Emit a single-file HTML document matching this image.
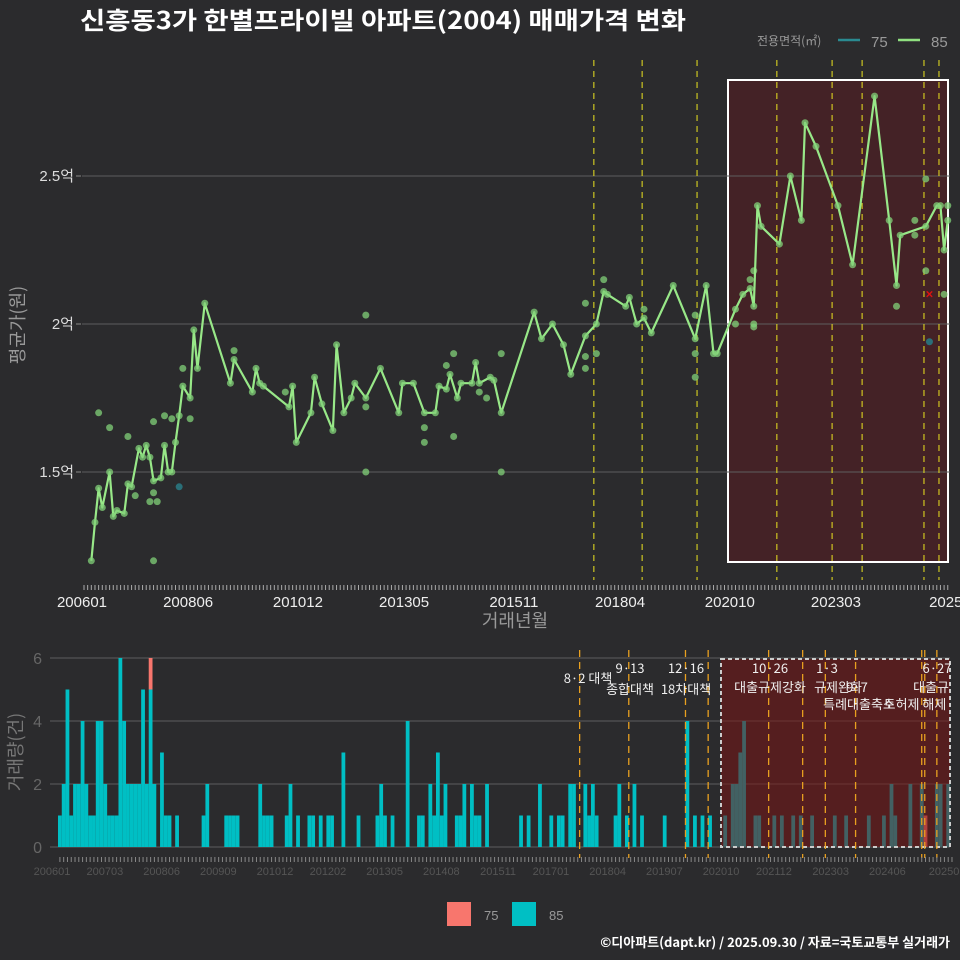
<!DOCTYPE html>
<html><head><meta charset="utf-8">
<style>
html,body{margin:0;padding:0;background:#2b2b2d;}
svg{display:block;font-family:"Liberation Sans","Noto Sans CJK KR",sans-serif;}
</style></head>
<body>
<svg id="c" width="960" height="960" viewBox="0 0 960 960" xmlns="http://www.w3.org/2000/svg">
<rect width="960" height="960" fill="#2b2b2d"/>
<text x="80" y="29" fill="#ffffff" font-size="24" font-weight="bold" font-family="'Noto Sans CJK KR',sans-serif" textLength="606" lengthAdjust="spacingAndGlyphs">신흥동3가 한별프라이빌 아파트(2004) 매매가격 변화</text>
<g>
<text x="757" y="45" fill="#999" font-size="12" font-family="'Noto Sans CJK KR',sans-serif">전용면적(㎡)</text>
<line x1="838" y1="40" x2="860" y2="40" stroke="#2a8a90" stroke-width="2.5"/>
<text x="871" y="47" fill="#999" font-size="15">75</text>
<line x1="898" y1="40" x2="920" y2="40" stroke="#90e080" stroke-width="2.5"/>
<text x="931" y="47" fill="#999" font-size="15">85</text>
</g>
<g id="topchart"></g>
<g id="botchart"></g>
<g>
<rect x="447" y="902" width="24" height="24" fill="#f8766d"/>
<text x="484" y="920" fill="#999" font-size="13">75</text>
<rect x="512" y="902" width="24" height="24" fill="#00bfc4"/>
<text x="549" y="920" fill="#999" font-size="13">85</text>
</g>
<text x="950" y="947" text-anchor="end" fill="#fff" font-size="13" font-weight="bold" font-family="'Noto Sans CJK KR',sans-serif">©디아파트(dapt.kr) / 2025.09.30 / 자료=국토교통부 실거래가</text>
</svg>
<script>
const lineMonths=[2,3,4,5,7,8,9,11,12,13,15,16,17,18,19,21,22,23,24,25,26,27,29,30,31,33,40,41,46,47,48,49,56,57,58,62,63,65,68,69,71,73,74,77,81,86,87,90,93,96,97,99,100,102,103,106,107,108,111,112,114,123,125,128,131,133,137,140,142,143,148,149,151,153,155,161,167,170,172,173,178,180,182,183,184,185,190,193,196,197,200,206,210,216,220,222,223,230,233,234,235,236];
const linePrices=[1.2,1.33,1.445,1.38,1.5,1.35,1.37,1.36,1.46,1.45,1.58,1.55,1.59,1.55,1.47,1.48,1.59,1.5,1.5,1.6,1.69,1.79,1.75,1.98,1.85,2.07,1.8,1.88,1.77,1.85,1.8,1.79,1.72,1.79,1.6,1.7,1.82,1.73,1.64,1.93,1.7,1.75,1.8,1.75,1.85,1.7,1.8,1.8,1.7,1.7,1.79,1.78,1.83,1.75,1.8,1.8,1.87,1.8,1.82,1.81,1.7,2.04,1.95,2.0,1.93,1.83,1.96,2.0,2.11,2.1,2.06,2.09,2.0,2.02,1.97,2.13,1.95,2.13,1.9,1.9,2.05,2.1,2.12,2.06,2.4,2.33,2.27,2.5,2.35,2.68,2.6,2.4,2.2,2.77,2.35,2.13,2.3,2.33,2.4,2.4,2.25,2.35];
const extraMonths=[4,7,12,19,22,24,27,29,41,55,19,19,18,20,14,77,77,77,93,93,101,99,101,110,108,114,114,137,137,137,140,142,153,167,167,167,178,183,183,182,183,227,227,222,230,230,235,236];
const extraPrices=[1.7,1.65,1.62,1.67,1.69,1.68,1.85,1.68,1.91,1.77,1.2,1.43,1.4,1.4,1.42,2.03,1.72,1.5,1.65,1.6,1.9,1.86,1.62,1.75,1.77,1.9,1.5,2.07,1.89,1.85,1.9,2.15,2.05,2.03,1.9,1.82,2.0,2.0,1.99,2.15,2.18,2.35,2.3,2.06,2.49,2.18,2.1,2.4];
const teal75Months=[26,231];
const teal75Prices=[1.45,1.94];
const cancelMonths=[231];
const cancelPrices=[2.1];
const topYTicks=[1.5,2,2.5];
const topYLabels=["1.5억","2억","2.5억"];
const topXTicks=[0,29,59,88,118,147,177,206,236];
const topXLabels=["200601","200806","201012","201305","201511","201804","202010","202303","2025"];
const topPolicyMonths=[139.3,152.5,167.5,189.3,204.4,212.6,229.5,233.6];

const volMonths=[0,1,2,3,4,5,6,7,8,9,10,11,12,13,14,15,16,17,18,19,20,21,22,23,24,25,27,28,29,31,38,39,44,45,46,47,53,54,55,56,60,61,63,66,67,69,71,72,75,79,84,85,86,88,92,95,96,98,99,100,101,102,105,106,107,109,110,111,113,122,124,127,130,132,133,135,136,139,140,141,142,147,148,150,152,154,160,166,168,170,172,176,178,179,180,181,184,185,189,191,194,196,199,205,208,214,218,220,221,225,228,232,233,235];
const vol85=[1,2,5,1,2,2,4,2,1,1,4,4,2,1,1,1,6,4,2,2,2,2,5,2,5,2,3,1,1,1,1,2,1,1,1,1,2,1,1,1,1,2,1,1,1,1,1,1,3,1,1,2,1,1,4,1,1,2,1,3,1,2,1,1,2,2,1,1,2,1,1,2,1,1,1,2,2,2,1,2,1,1,2,1,2,1,1,4,1,1,1,1,2,2,3,4,1,1,1,1,1,1,1,1,1,1,1,2,1,2,2,2,2,2];
const vol75Months=[24,229];
const vol75=[1,1];
const botYTicks=[0,2,4,6];
const botXTicks=[0,14,29,44,59,73,88,103,118,132,147,162,177,191,206,221,236];
const botXLabels=["200601","200703","200806","200909","201012","201202","201305","201408","201511","201701","201804","201907","202010","202112","202303","202406","20250"];
const botPolicyMonths=[138,151,166,172,188,197,203,211,228.5,229.3,232.5];
const policyTexts=[["8·2 대책",588,683],["9·13",630,673],["종합대책",630,694],["12·16",686,673],["18차대책",686,694],["10·26",770,673],["대출규제강화",770,692],["1·3",827,673],["규제완화",838,692],["9·7",857,692],["특례대출축소",859,709],["토허제 해제",915,709],["6·27",937,673],["대출규제",937,692]];

const NS="http://www.w3.org/2000/svg";
function mk(parent,tag,attrs){const el=document.createElementNS(NS,tag);for(const k in attrs)el.setAttribute(k,attrs[k]);parent.appendChild(el);return el;}
const tx=m=>84+3.66*m;
const ty=v=>324-(v-2)*296;
const bx=m=>58+3.78*m;
const by=v=>847-v*31.5;
const topG=document.getElementById('topchart');
const botG=document.getElementById('botchart');

let e;
e=mk(topG,'rect',{x:728,y:80,width:220,height:482,fill:'rgba(100,25,30,0.45)',stroke:'#fff','stroke-width':2});


topYTicks.forEach((v,i)=>{
 e=mk(topG,'line',{x1:82,x2:950,y1:ty(v),y2:ty(v),stroke:'#5e5e5e','stroke-width':1});
 
 
 e=mk(topG,'line',{x1:76,x2:81,y1:ty(v),y2:ty(v),stroke:'#888'});
 
 
 e=mk(topG,'text',{x:74,y:ty(v)+5,'text-anchor':'end',fill:'#ddd','font-size':15});
 e.textContent=topYLabels[i];
 
 
});
topPolicyMonths.forEach(m=>{
 e=mk(topG,'line',{x1:tx(m),x2:tx(m),y1:60,y2:580,stroke:'#e8e020','stroke-width':1.2,'stroke-dasharray':'6,5',opacity:0.85});
 
 
});
for(let m=0;m<=236;m++){
 e=mk(topG,'line',{x1:tx(m),x2:tx(m),y1:585,y2:590,stroke:'#aaa','stroke-width':1});
 
 
}
topXTicks.forEach((m,i)=>{
 e=mk(topG,'text',{x:tx(m)-2,y:607,'text-anchor':'middle',fill:'#eee','font-size':15});
 e.textContent=topXLabels[i];
 
 
});
e=mk(topG,'text',{x:515,y:627,'text-anchor':'middle',fill:'#999','font-size':18,'font-family':"'Noto Sans CJK KR',sans-serif"});
e.textContent='거래년월';


e=mk(topG,'text',{x:0,y:0,'text-anchor':'middle',fill:'#999','font-size':18,transform:'translate(24,325) rotate(-90)','font-family':"'Noto Sans CJK KR',sans-serif"});
e.textContent='평균가(원)';


extraMonths.forEach((m,i)=>{
 e=mk(topG,'circle',{cx:tx(m),cy:ty(extraPrices[i]),r:3.5,fill:'rgba(130,210,120,0.75)'});
 
 
});
teal75Months.forEach((m,i)=>{
 e=mk(topG,'circle',{cx:tx(m),cy:ty(teal75Prices[i]),r:3.5,fill:'#2a6f78'});
 
 
});
e=mk(topG,'polyline',{points:lineMonths.map((m,i)=>tx(m)+','+ty(linePrices[i])).join(' '),fill:'none',stroke:'#98e888','stroke-width':2.2,'stroke-linejoin':'round'});


lineMonths.forEach((m,i)=>{
 e=mk(topG,'circle',{cx:tx(m),cy:ty(linePrices[i]),r:3.5,fill:'rgba(130,210,120,0.75)'});
 
 
});
cancelMonths.forEach((m,i)=>{
 e=mk(topG,'text',{x:tx(m),y:ty(cancelPrices[i])+4,'text-anchor':'middle',fill:'#dd1111','font-size':13,'font-weight':'bold'});
 e.textContent='×';
 
 
});

botYTicks.forEach(v=>{
 e=mk(botG,'line',{x1:50,x2:950,y1:by(v),y2:by(v),stroke:'#5e5e5e','stroke-width':1});
 
 
 e=mk(botG,'text',{x:42,y:by(v)+6,'text-anchor':'end',fill:'#666','font-size':16});
 e.textContent=String(v);
 
 
});
volMonths.forEach((m,i)=>{
 e=mk(botG,'rect',{x:bx(m),y:by(vol85[i]),width:3.78,height:vol85[i]*31.5,fill:'#00bfc4'});
 
 
});
vol75Months.forEach((m,i)=>{
 const idx=volMonths.indexOf(m);
 const base=idx>=0?vol85[idx]:0;
 e=mk(botG,'rect',{x:bx(m),y:by(base+vol75[i]),width:3.78,height:vol75[i]*31.5,fill:'#f8766d'});
 
 
});
e=mk(botG,'rect',{x:721,y:659,width:229,height:188,fill:'rgba(120,20,20,0.55)',stroke:'#ccc','stroke-width':2,'stroke-dasharray':'4,3'});


botPolicyMonths.forEach(m=>{
 e=mk(botG,'line',{x1:bx(m),x2:bx(m),y1:650,y2:858,stroke:'#e8a020','stroke-width':1.3,'stroke-dasharray':'7,5'});
 
 
});
const clip=mk(botG,'clipPath',{id:'cp'});
mk(clip,'rect',{x:0,y:640,width:950,height:100});
const tg=mk(botG,'g',{'clip-path':'url(#cp)'});


policyTexts.forEach(p=>{
 e=mk(tg,'text',{x:p[1],y:p[2],'text-anchor':'middle',fill:'#f0f0f0','font-size':13,'font-family':"'Noto Sans CJK KR',sans-serif"});
 e.textContent=p[0];
 
 
});
for(let m=0;m<=236;m++){
 e=mk(botG,'line',{x1:bx(m)+1.9,x2:bx(m)+1.9,y1:857,y2:862,stroke:'#888','stroke-width':1});
 
 
}
botXTicks.forEach((m,i)=>{
 e=mk(botG,'text',{x:bx(m)-6,y:875,'text-anchor':'middle',fill:'#555','font-size':11});
 e.textContent=botXLabels[i];
 
 
});
e=mk(botG,'text',{x:0,y:0,'text-anchor':'middle',fill:'#777','font-size':18,transform:'translate(22,752) rotate(-90)','font-family':"'Noto Sans CJK KR',sans-serif"});
e.textContent='거래량(건)';


</script>
</body></html>
